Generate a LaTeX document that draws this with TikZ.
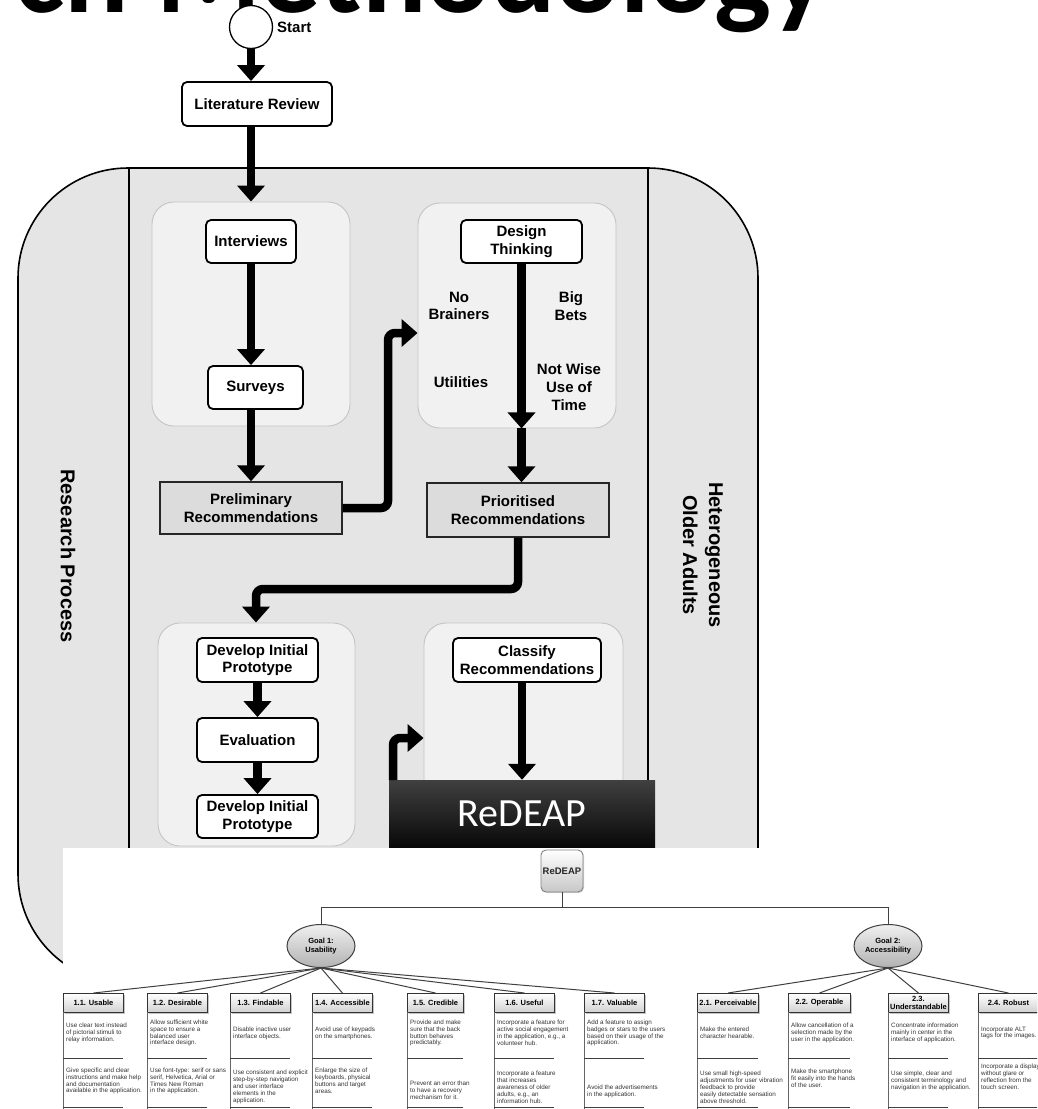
\documentclass[tikz,border=0pt]{standalone}
\usepackage{fontspec}
\setmainfont{Liberation Sans}
\newfontfamily\mycali{Carlito}
\usetikzlibrary{arrows.meta,shapes.geometric,shadows}
\definecolor{lanegray}{HTML}{E5E5E5}
\definecolor{grpfill}{HTML}{F1F1F1}
\definecolor{grpline}{HTML}{C4C4C4}
\definecolor{recfill}{HTML}{DCDCDC}
\newcommand\myflow{\fontsize{15}{17.7}\selectfont\bfseries}
\newcommand\mylane{\fontsize{20}{26}\selectfont\bfseries}
\newcommand\mytitle{\mycali\bfseries\fontsize{120}{120}\selectfont}
\newcommand\mybanner{\mycali\fontsize{40}{40}\selectfont}
\newcommand\myhdr{\fontsize{7.5}{8}\selectfont\bfseries}
\newcommand\myleaf{\fontsize{6.3}{6.9}\selectfont}
\newcommand\mygoal{\fontsize{7.5}{8.5}\selectfont\bfseries}
\newcommand\myrd{\fontsize{9.5}{10}\selectfont\bfseries}
\tikzset{
  proc/.style={draw=black, line width=1.8pt, rounded corners=5pt, fill=white, align=center, inner sep=0pt, font=\myflow},
  recbox/.style={draw=black!85, line width=1.4pt, fill=recfill, align=center, inner sep=0pt, font=\myflow},
  grp/.style={draw=grpline, line width=0.9pt, fill=grpfill, rounded corners=22pt, inner sep=0pt},
  flow/.style={line width=8.5pt, rounded corners=7pt, -{Triangle[width=27pt,length=16pt]}},
  plain/.style={font=\myflow, align=center, inner sep=0pt},
  lane/.style={font=\mylane, align=center, rotate=-90, inner sep=0pt},
  hdr/.style={draw=black!80, line width=0.9pt, top color=white, bottom color=black!18, drop shadow={shadow xshift=1.5pt, shadow yshift=-1.5pt, fill=black!45}, font=\myhdr, align=center, inner sep=0pt, minimum height=19pt, anchor=north west},
  leaftxt/.style={font=\myleaf, text=black!80, align=left, anchor=west, inner sep=0pt},
  tedge/.style={draw=black!75, line width=1pt},
  sep/.style={draw=black!75, line width=0.9pt},
  vline/.style={draw=black!60, line width=0.8pt},
  goal/.style={ellipse, draw=black!75, line width=1pt, top color=black!6, bottom color=black!30, minimum width=68pt, minimum height=43pt, inner sep=0pt, align=center, font=\mygoal},
}
\newcommand{\leafcol}[7]{%
  \node[hdr, minimum width=#3pt] (#1) at (#2,993) {#4};
  \draw[vline] (#2,1012) -- (#2,1109);
  \draw[sep] (#2,1058) -- (#2+#3,1058);
  \draw[sep] (#2,1107) -- (#2+#3,1107);
  \node[leaftxt] (#1a) at (#2+3,1033) {#5};
  \node[leaftxt] (#1b) at (#2+3,#7) {#6};
}
\begin{document}
\begin{tikzpicture}[x=1pt,y=-1pt]
\useasboundingbox (0,0) rectangle (1037,1109);
\clip (0,0) rectangle (1037,1109);
\fill[white] (0,0) rectangle (1037,1109);
% clipped title
\node[anchor=base east, inner sep=0pt, font=\mytitle] (title) at (828,12) {Research Methodology};
% swimlane frame
\draw[fill=lanegray, line width=1.6pt, rounded corners=110pt] (18,168) rectangle (758,984);
\draw[line width=1.3pt] (129,168) -- (129,984);
\draw[line width=1.3pt] (648,168) -- (648,984);
\node[lane] (rp) at (68,556) {Research Process};
\node[lane] (hoa) at (703,555) {Heterogeneous\\Older Adults};
% group panels
\node[grp, minimum width=198pt, minimum height=224pt] (g1) at (251,314) {};
\node[grp, minimum width=198pt, minimum height=225pt] (g2) at (517,315.5) {};
\node[grp, minimum width=197pt, minimum height=223pt] (g3) at (256.5,734.5) {};
\node[grp, minimum width=199pt, minimum height=223pt] (g4) at (523.5,734.5) {};
% nodes
\node[draw, circle, line width=1.3pt, fill=white, minimum size=43pt, inner sep=0pt] (start) at (251,27) {};
\node[plain, anchor=west] (startlbl) at (277,27) {Start};
\node[proc, minimum width=150pt, minimum height=44pt] (lit) at (257,104) {Literature Review};
\node[proc, minimum width=90pt, minimum height=43pt] (int) at (251,241.5) {Interviews};
\node[proc, minimum width=95pt, minimum height=43pt] (sur) at (255.5,387.5) {Surveys};
\node[recbox, minimum width=182pt, minimum height=52pt] (pre) at (251,508) {Preliminary\\Recommendations};
\node[proc, minimum width=121pt, minimum height=43pt] (des) at (521.5,241.5) {Design\\Thinking};
\node[plain] (nb) at (459,306) {No\\Brainers};
\node[plain] (bb) at (571,306) {Big\\Bets};
\node[plain] (ut) at (461,382) {Utilities};
\node[plain] (nw) at (569,387) {Not Wise\\Use of\\Time};
\node[recbox, minimum width=182pt, minimum height=54pt] (pri) at (518,510) {Prioritised\\Recommendations};
\node[proc, minimum width=121pt, minimum height=44pt] (dev1) at (257.5,660) {Develop Initial\\Prototype};
\node[proc, minimum width=121pt, minimum height=44pt] (eval) at (257.5,740) {Evaluation};
\node[proc, minimum width=121pt, minimum height=43pt] (dev2) at (257.5,816.5) {Develop Initial\\Prototype};
\node[proc, minimum width=148pt, minimum height=44pt] (cla) at (527,660) {Classify\\Recommendations};
% banner
\node[minimum width=266pt, minimum height=68pt, top color=black!75, bottom color=black!97, inner sep=0pt, text=white, font=\mybanner] (ban) at (522,814) {ReDEAP};
% connectors
\coordinate (c1) at (388,333);
\coordinate (c2) at (256,589);
\coordinate (c3) at (393,780);
\coordinate (c4) at (393,738);
\draw[flow] (start.south) -- (start.south |- lit.north);
\draw[flow] (start.south |- lit.south) -- (start.south |- g1.north);
\draw[flow] (int.south) -- (int.south |- sur.north);
\draw[flow] (int.south |- sur.south) -- (int.south |- pre.north);
\draw[flow] (pre.east) -| (c1) -- (c1 -| g2.west);
\draw[flow] (des.south) -- (des.south |- g2.south);
\draw[flow] (des.south |- g2.south) -- (des.south |- pri.north);
\draw[flow] (pri.south) |- (c2) -- (c2 |- g3.north);
\draw[flow] (dev1.south) -- (eval.north);
\draw[flow] (eval.south) -- (dev2.north);
\draw[flow] (ban.north |- cla.south) -- (ban.north);
\draw[flow] (c3) -- (c4) -- (c4 -| g4.west);
% white tree panel
\fill[white] (63,848) rectangle (1037,1109);
% tree
\node[draw=black!50, line width=0.9pt, rounded corners=5pt, top color=white, bottom color=black!22, drop shadow={shadow xshift=1pt, shadow yshift=-1pt, fill=black!30}, minimum width=42pt, minimum height=42pt, inner sep=0pt, font=\myrd, text=black!85] (rd) at (562,871) {ReDEAP};
\node[goal] (goal1) at (321,946) {Goal 1:\\Usability};
\node[goal] (goal2) at (888,946) {Goal 2:\\Accessibility};
\coordinate (hb) at (562,907);
\draw[tedge] (rd.south) -- (hb);
\draw[tedge] (goal1.north) |- (hb) -| (goal2.north);
\leafcol{h11}{63}{60}{1.1. Usable}{Use clear text instead\\of pictorial stimuli to\\relay information.}{Give specific and clear\\instructions and make help\\and documentation\\available in the application.}{1081}
\leafcol{h12}{147}{60}{1.2. Desirable}{Allow sufficient white\\space to ensure a\\balanced user\\interface design.}{Use font-type: serif or sans\\serif, Helvetica, Arial or\\Times New Roman\\in the application.}{1081}
\leafcol{h13}{230}{60}{1.3. Findable}{Disable inactive user\\interface objects.}{Use consistent and explicit\\step-by-step navigation\\and user interface\\elements in the\\application.}{1087}
\leafcol{h14}{312}{60}{1.4. Accessible}{Avoid use of keypads\\on the smartphones.}{Enlarge the size of\\keyboards, physical\\buttons and target\\areas.}{1081}
\leafcol{h15}{407}{56}{1.5. Credible}{Provide and make\\sure that the back\\button behaves\\predictably.}{Prevent an error than\\to have a recovery\\mechanism for it.}{1090}
\leafcol{h16}{494}{60}{1.6. Useful}{Incorporate a feature for\\active social engagement\\in the application, e.g., a\\volunteer hub.}{Incorporate a feature\\that increases\\awareness of older\\adults, e.g., an\\information hub.}{1087}
\leafcol{h17}{584}{60}{1.7. Valuable}{Add a feature to assign\\badges or stars to the users\\based on their usage of the\\application.}{Avoid the advertisements\\in the application.}{1091}
\leafcol{h21}{697}{61}{2.1. Perceivable}{Make the entered\\character hearable.}{Use small high-speed\\adjustments for user vibration\\feedback to provide\\easily detectable sensation\\above threshold.}{1087}
\leafcol{h22}{788}{62}{2.2. Operable}{Allow cancellation of a\\selection made by the\\user in the application.}{Make the smartphone\\fit easily into the hands\\of the user.}{1078}
\leafcol{h23}{888}{60}{2.3.\\Understandable}{Concentrate information\\mainly in center in the\\interface of application.}{Use simple, clear and\\consistent terminology and\\navigation in the application.}{1081}
\leafcol{h24}{978}{60}{2.4. Robust}{Incorporate ALT\\tags for the images.}{Incorporate a display\\without glare or\\reflection from the\\touch screen.}{1077}
\foreach \h in {h11,h12,h13,h14,h15,h16,h17} \draw[tedge] (goal1.south) -- (\h.north);
\foreach \h in {h21,h22,h23,h24} \draw[tedge] (goal2.south) -- (\h.north);
\end{tikzpicture}
\end{document}
